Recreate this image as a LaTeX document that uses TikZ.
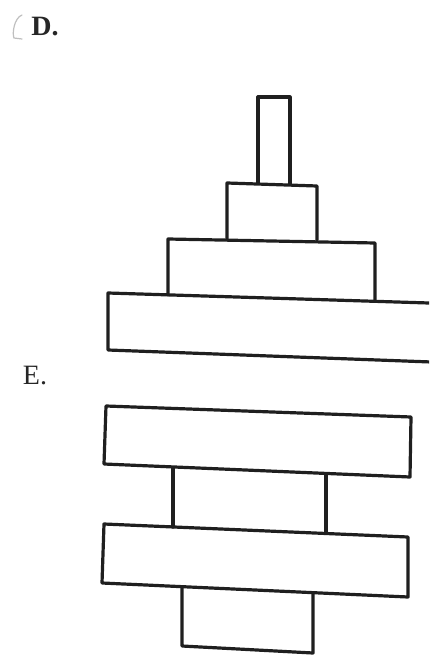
\documentclass[tikz,border=0pt]{standalone}
\usepackage{fontspec}
\setmainfont{Liberation Serif}
\begin{document}
\begin{tikzpicture}[x=1pt,y=-1pt,
  part/.style={draw=black!88,line width=3.2pt,line join=round,line cap=round},
  lbl/.style={font=\fontsize{28}{28}\selectfont,inner sep=0pt,text=black!85}]
\useasboundingbox (0,0) rectangle (429,655);
\clip (0,0) rectangle (429,655);
% labels
\node[lbl,font=\fontsize{28}{28}\selectfont\bfseries] (D) at (45,27) {D.};
\node[lbl] (E) at (35,376) {E.};
\draw[black!25,line width=1.2pt,line cap=round] (22,15) .. controls (14,18) and (12,34) .. (14,38) -- (22,39);
% figure D
\draw[part] (258,183) -- (258,97) -- (290,97) -- (290,184);
\draw[part] (227,239) -- (227,183) -- (317,186) -- (317,240);
\draw[part] (168,295) -- (168,239) -- (375,243) -- (375,300);
\draw[part] (445,303.5) -- (108,293) -- (108,350) -- (445,362.5);
% figure E
\draw[part] (106,406) -- (411,417) -- (410,477) -- (104,464) -- cycle;
\draw[part] (173,468) -- (173,527);
\draw[part] (326,475) -- (326,533);
\draw[part] (104,524) -- (408,537) -- (408,597) -- (102,583) -- cycle;
\draw[part] (182,587) -- (182,646) -- (313,653) -- (313,593);
\end{tikzpicture}
\end{document}
